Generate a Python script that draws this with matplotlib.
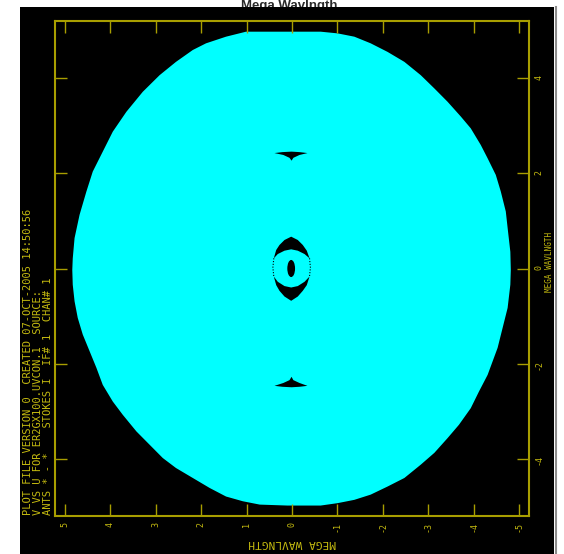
import matplotlib

matplotlib.use("Agg")
import matplotlib.pyplot as plt
from matplotlib.lines import Line2D
from matplotlib.patches import Ellipse

# outer edge of the uv coverage (mega wavelengths)
outer_u = [4.83, 4.82, 4.78, 4.67, 4.52, 4.38, 4.16, 3.94, 3.64, 3.28, 2.91, 2.55, 2.18,
           1.89, 1.45, 1.01, 0.10, -0.63, -1.00, -1.37, -1.73, -2.10, -2.47, -2.83,
           -3.13, -3.42, -3.71, -3.93, -4.15, -4.30, -4.48, -4.59, -4.70, -4.75, -4.80,
           -4.81, -4.80, -4.74, -4.63, -4.52, -4.30, -4.11, -3.93, -3.67, -3.42, -3.13,
           -2.83, -2.47, -2.10, -1.73, -1.37, -1.00, -0.63, 0.10, 0.71, 1.08, 1.45,
           1.81, 2.18, 2.55, 2.84, 3.13, 3.42, 3.72, 3.94, 4.16, 4.30, 4.45, 4.60,
           4.71, 4.78, 4.82]
outer_v = [-0.03, 0.21, 0.64, 1.13, 1.62, 2.04, 2.46, 2.88, 3.30, 3.72, 4.07, 4.35, 4.60,
           4.74, 4.88, 4.985, 4.985, 4.985, 4.95, 4.88, 4.74, 4.56, 4.35, 4.07,
           3.79, 3.51, 3.20, 2.95, 2.60, 2.32, 1.97, 1.62, 1.20, 0.77, 0.35,
           -0.03, -0.34, -0.83, -1.25, -1.67, -2.24, -2.59, -2.94, -3.29, -3.57, -3.88,
           -4.13, -4.41, -4.59, -4.76, -4.87, -4.94, -4.99, -4.99, -4.97, -4.90, -4.80,
           -4.62, -4.41, -4.20, -3.99, -3.71, -3.43, -3.08, -2.80, -2.45, -2.09, -1.74,
           -1.39, -1.04, -0.69, -0.34]

# gaps in the coverage
gap_top_u = [0.385, 0.21, 0.01, -0.165, -0.34, -0.165, -0.03, 0.01, 0.055, 0.19]
gap_top_v = [2.43, 2.45, 2.46, 2.45, 2.43, 2.39, 2.33, 2.27, 2.33, 2.39]
gap_bot_u = [0.385, 0.21, 0.01, -0.165, -0.34, -0.165, -0.03, 0.01, 0.055, 0.19]
gap_bot_v = [-2.47, -2.49, -2.50, -2.49, -2.47, -2.41, -2.35, -2.28, -2.35, -2.41]
arc_up_u = [0.40, 0.347, 0.275, 0.165, 0.018, -0.127, -0.237, -0.325, -0.385,
            -0.275, -0.127, 0.018, 0.165, 0.312]
arc_up_v = [0.215, 0.39, 0.495, 0.60, 0.67, 0.60, 0.495, 0.375, 0.215,
            0.305, 0.375, 0.404, 0.375, 0.305]
arc_lo_u = [0.40, 0.347, 0.275, 0.165, 0.018, -0.127, -0.237, -0.325, -0.385,
            -0.275, -0.127, 0.018, 0.165, 0.312]
arc_lo_v = [-0.17, -0.35, -0.47, -0.59, -0.68, -0.59, -0.47, -0.35, -0.17,
            -0.28, -0.37, -0.40, -0.37, -0.28]
ring_left_u = [0.40, 0.42, 0.40]
ring_left_v = [0.215, 0.02, -0.17]
ring_right_u = [-0.385, -0.405, -0.385]
ring_right_v = [0.215, 0.02, -0.17]
hole_u, hole_v = 0.018, 0.0

x_ticks = [5, 4, 3, 2, 1, 0, -1, -2, -3, -4, -5]
y_ticks = [4, 2, 0, -2, -4]

header_lines = [
    "PLOT FILE VERSION 0  CREATED 07-OCT-2005 14:50:56",
    "V VS U FOR ER2GX100.UVCON.1  SOURCE:",
    "ANTS * - *    STOKES I  IF# 1  CHAN# 1",
]

frame_col = "#a89e00"
text_col = "#c4ba10"
mono = "DejaVu Sans Mono"
plt.rcParams["axes.unicode_minus"] = False

W, H = 564, 554
fig = plt.figure(figsize=(W / 100, H / 100), dpi=100)
fig.patch.set_facecolor("white")

fig.text(289 / W, 1 - 0.5 / H, "Mega Wavlngth", ha="center", va="top",
         fontsize=9.5, fontweight="bold", color="#2a2a2a", family="Liberation Sans", zorder=-1)

bg = fig.add_axes([20 / W, 0, 534 / W, 547 / H], zorder=0)
bg.set_facecolor("black")
bg.set_xticks([])
bg.set_yticks([])
for s in bg.spines.values():
    s.set_visible(False)
fig.add_artist(Line2D([556 / W, 556 / W], [0, 547 / H], color="#8c8c8c", lw=1.5))

ax = fig.add_axes([55 / W, 1 - 516 / H, 474 / W, 495 / H], zorder=1)
ax.set_facecolor("black")
ax.fill(outer_u, outer_v, color="#00ffff", lw=0)
for gu, gv in [(gap_top_u, gap_top_v), (gap_bot_u, gap_bot_v),
               (arc_up_u, arc_up_v), (arc_lo_u, arc_lo_v)]:
    ax.fill(gu, gv, color="black", lw=0)
ax.plot(ring_left_u, ring_left_v, color="black", lw=0.8, ls=(0, (1, 1.5)))
ax.plot(ring_right_u, ring_right_v, color="black", lw=0.8, ls=(0, (1, 1.5)))
ax.add_patch(Ellipse((hole_u, hole_v), 0.17, 0.36, color="black", lw=0))

ax.set_xlim(5.21, -5.21)
ax.set_ylim(-5.21, 5.21)
ax.set_xticks(x_ticks)
ax.set_yticks(y_ticks)
ax.tick_params(direction="in", length=8.6, width=1, color=frame_col,
               top=True, right=True, left=True, bottom=True,
               labelleft=False, labelright=True, labeltop=False, labelbottom=True,
               labelsize=6, labelcolor=text_col, labelrotation=90, pad=4)
for lab in ax.get_xticklabels() + ax.get_yticklabels():
    lab.set_family(mono)
for s in ax.spines.values():
    s.set_color(frame_col)
    s.set_linewidth(1.5)

for i, line in enumerate(header_lines):
    fig.text((28 + 10 * i) / W, 1 - 515 / H, line, rotation=90, ha="center", va="bottom",
             fontsize=7.5, family=mono, color=text_col)

fig.text(549 / W, 1 - 262 / H, "MEGA WAVLNGTH", rotation=90, ha="center", va="center",
         fontsize=5.5, family=mono, color=text_col)
fig.text(292 / W, 1 - 543 / H, "MEGA WAVLNGTH", rotation=180, ha="center", va="center",
         fontsize=8, family=mono, color=text_col)

fig.savefig("out.png", dpi=100, facecolor="white")
